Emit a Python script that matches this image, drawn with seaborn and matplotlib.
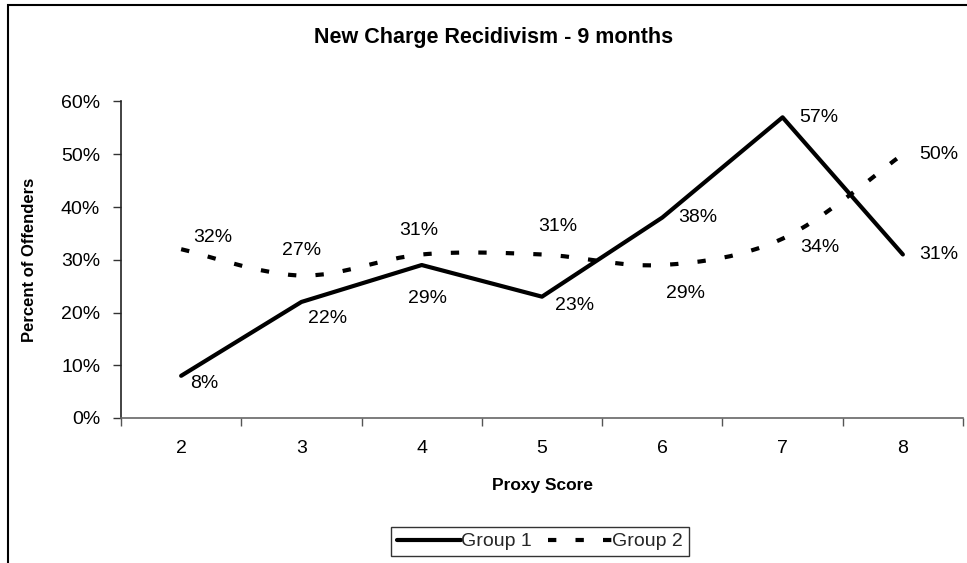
import numpy as np
import pandas as pd
import matplotlib
matplotlib.use("Agg")
import matplotlib.pyplot as plt
import seaborn as sns
from matplotlib.path import Path
from matplotlib.patches import PathPatch, Rectangle
from matplotlib.lines import Line2D
from matplotlib.ticker import FixedLocator, PercentFormatter

# data
scores = ["2", "3", "4", "5", "6", "7", "8"]
group1 = [0.08, 0.22, 0.29, 0.23, 0.38, 0.57, 0.31]
group2 = [0.32, 0.27, 0.31, 0.31, 0.29, 0.34, 0.50]
group1_lbl = ["8%", "22%", "29%", "23%", "38%", "57%", "31%"]
group2_lbl = ["32%", "27%", "31%", "31%", "29%", "34%", "50%"]

# label offsets (pixels, centre of text relative to the point)
off1 = [(23, -8), (26, -17), (6, -33), (33, -9), (35, 0), (36, 0), (36, 0)]
off2 = [(32, 12), (0, 25), (-3, 24), (16, 28), (23, -28), (37, -9), (36, 0)]

sns.set_theme(style="white")
plt.rcParams["font.family"] = ["Liberation Sans", "DejaVu Sans"]

fig = plt.figure(figsize=(9.67, 5.63), dpi=100)
ax = fig.add_axes([121 / 967, 1 - 418 / 563, 842 / 967, 316.5 / 563])

df = pd.DataFrame({"score": scores, "Group 1": group1})
sns.lineplot(data=df, x="score", y="Group 1", ax=ax, color="black", lw=3, sort=False)

# group 2 drawn as a smoothed line (Catmull-Rom -> bezier), like Excel
xs = np.arange(len(group2), dtype=float)
ys = np.array(group2)
px = np.concatenate([[xs[0]], xs, [xs[-1]]])
py = np.concatenate([[ys[0]], ys, [ys[-1]]])
verts = [(xs[0], ys[0])]
codes = [Path.MOVETO]
for i in range(1, len(px) - 2):
    c1 = (px[i] + (px[i + 1] - px[i - 1]) / 6, py[i] + (py[i + 1] - py[i - 1]) / 6)
    c2 = (px[i + 1] - (px[i + 2] - px[i]) / 6, py[i + 1] - (py[i + 2] - py[i]) / 6)
    verts += [c1, c2, (px[i + 1], py[i + 1])]
    codes += [Path.CURVE4] * 3
dash = (0, (2.0, 4.6))
ax.add_patch(PathPatch(Path(verts, codes), fill=False, lw=3, ec="black",
                       linestyle=dash, capstyle="butt"))

for i in range(len(scores)):
    ax.annotate(group1_lbl[i], (i, group1[i]), xytext=off1[i], textcoords="offset pixels",
                ha="center", va="center", fontsize=14, color="black")
    ax.annotate(group2_lbl[i], (i, group2[i]), xytext=off2[i], textcoords="offset pixels",
                ha="center", va="center", fontsize=14, color="black")

ax.set_xlim(-0.5, len(scores) - 0.5)
ax.set_ylim(0, 0.6)
ax.set_yticks(np.arange(0, 0.61, 0.1))
ax.yaxis.set_major_formatter(PercentFormatter(1.0, decimals=0))
ax.set_xticks(range(len(scores)))
ax.set_xticklabels(scores)
ax.xaxis.set_minor_locator(FixedLocator(np.arange(-0.5, len(scores), 1)))
ax.tick_params(axis="x", which="major", length=0, pad=16, labelsize=14, colors="black")
ax.tick_params(axis="x", which="minor", length=6, width=1, color="#555555", direction="out", bottom=True)
ax.tick_params(axis="y", which="major", length=6, width=1, color="#333333", direction="out", left=True,
               pad=9, labelsize=14, labelcolor="black")

for s in ["top", "right"]:
    ax.spines[s].set_visible(False)
ax.spines["left"].set_color("#222222")
ax.spines["bottom"].set_color("#666666")
ax.spines["left"].set_linewidth(1.2)
ax.spines["bottom"].set_linewidth(1.2)

ax.set_xlabel("Proxy Score", fontsize=12.5, fontweight="bold", color="black")
ax.set_ylabel("Percent of Offenders", fontsize=12, fontweight="bold", color="black")
ax.xaxis.set_label_coords(0.5, -0.19)
ax.yaxis.set_label_coords(-0.1, 0.5)

fig.text(494 / 967, 1 - 38 / 563, "New Charge Recidivism - 9 months", ha="center", va="center",
         fontsize=15.5, fontweight="bold", color="black")

handles = [Line2D([], [], color="black", lw=3),
           Line2D([], [], color="black", lw=3, linestyle=dash, dash_capstyle="butt")]
leg = fig.legend(handles, ["Group 1", "Group 2"], loc="center", bbox_to_anchor=(540 / 967, 1 - 541.5 / 563),
                 ncol=2, fontsize=14, frameon=True, fancybox=False, handlelength=3.3,
                 handletextpad=0.0, columnspacing=0.8, borderpad=0.3, borderaxespad=0)
leg.get_frame().set_edgecolor("black")
leg.get_frame().set_linewidth(1)

# outer chart frame
fig.patches.append(Rectangle((8 / 967, -0.1), 1.2, 1.1 - 5 / 563, transform=fig.transFigure,
                             fill=False, ec="black", lw=1.5, zorder=0))

fig.savefig("out.png", dpi=100)
